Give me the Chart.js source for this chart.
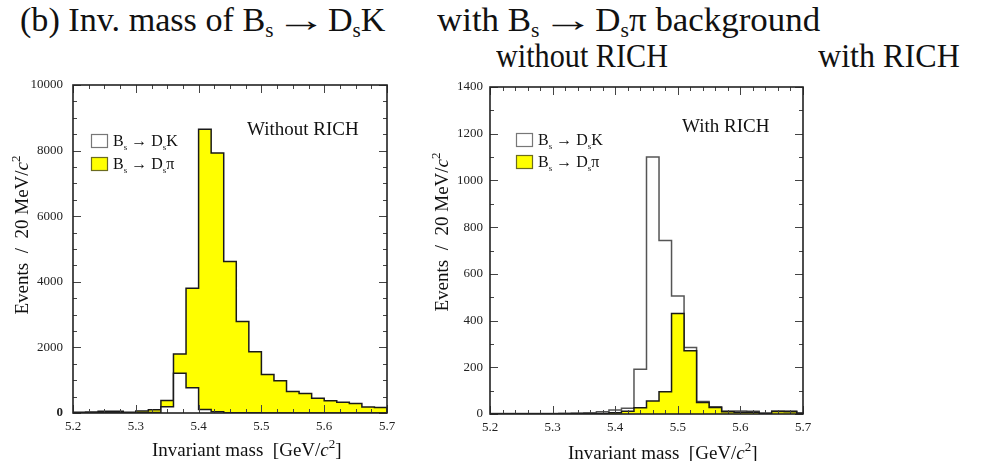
<!DOCTYPE html>
<html>
<head>
<meta charset="utf-8">
<script src="https://cdn.jsdelivr.net/npm/chart.js@4/dist/chart.umd.min.js"></script>
<style>
    body { margin: 0; width: 998px; height: 461px; background: #fff; position: relative; overflow: hidden; }
    .head { position: absolute; font: 33px 'Liberation Serif', serif; line-height: 1; white-space: nowrap; color: #111; transform-origin: 0 0; }
    .head sub { font-size: 62%; vertical-align: -0.28em; line-height: 0; }
    .head .arr { display: inline-block; margin: 0 0.3em; transform: scaleX(1.5); }
    .panel { position: absolute; top: 75px; height: 386px; }
</style>
</head>
<body>
<div class="head" data-w="365" style="left:20px;top:4px">(b) Inv. mass of B<sub>s</sub><span class="arr">&rarr;</span>D<sub>s</sub>K</div>
<div class="head" data-w="383" style="left:437px;top:4px">with B<sub>s</sub><span class="arr">&rarr;</span>D<sub>s</sub>&pi; background</div>
<div class="head" data-w="172" style="left:496px;top:40px">without RICH</div>
<div class="head" data-w="142" style="left:818px;top:40px">with RICH</div>

<div class="panel" style="left:0;width:400px"><canvas id="leftChart" width="400" height="386"></canvas></div>
<div class="panel" style="left:400px;width:420px"><canvas id="rightChart" width="420" height="386"></canvas></div>

<script>
// bin edges (GeV/c^2), 20 MeV bins
const leftEdges = [5.20, 5.22, 5.24, 5.26, 5.28, 5.30, 5.32, 5.34, 5.36, 5.38, 5.40, 5.42, 5.44,
                   5.46, 5.48, 5.50, 5.52, 5.54, 5.56, 5.58, 5.60, 5.62, 5.64, 5.66, 5.68, 5.70];
const rightEdges = [5.19, 5.21, 5.23, 5.25, 5.27, 5.29, 5.31, 5.33, 5.35, 5.37, 5.39, 5.41, 5.43, 5.45,
                    5.47, 5.49, 5.51, 5.53, 5.55, 5.57, 5.59, 5.61, 5.63, 5.65, 5.67, 5.69, 5.71];

// without RICH: events per bin
const leftDsPi = [20, 30, 50, 50, 20, 60, 100, 380, 1800, 3800, 8650, 7930, 4620,
                  2790, 1870, 1170, 985, 655, 595, 450, 370, 330, 290, 185, 165];
const leftDsK = [5, 5, 5, 5, 5, 10, 15, 190, 1210, 770, 110, 40, 10,
                 5, 5, 3, 2, 2, 2, 2, 1, 1, 1, 1, 1];

// with RICH: events per bin
const rightDsK = [2, 2, 2, 2, 2, 2, 3, 4, 5, 10, 17, 25, 192, 1100,
                  743, 505, 285, 54, 31, 13, 13, 12, 4, 13, 13, 4];
const rightDsPi = [0, 0, 0, 0, 0, 0, 0, 1, 1, 2, 5, 12, 27, 56,
                   95, 430, 271, 49, 28, 10, 8, 8, 2, 11, 10, 3];

const xTicks = [5.2, 5.3, 5.4, 5.5, 5.6, 5.7];
const leftYTicks = [0, 2000, 4000, 6000, 8000, 10000];
const rightYTicks = [0, 200, 400, 600, 800, 1000, 1200, 1400];

const SERIF = "'Liberation Serif', 'Times New Roman', serif";
const YELLOW = '#ffff00';

// stretch the heading lines to the widths of the original typesetting
document.querySelectorAll('.head').forEach(el => {
    const target = +el.dataset.w;
    el.style.transform = 'scaleX(' + (target / el.offsetWidth).toFixed(3) + ')';
});

// step outline that closes down to zero at both ends
function histPoints(edges, values) {
    const pts = [{ x: edges[0], y: 0 }];
    values.forEach((v, i) => pts.push({ x: edges[i], y: v }));
    pts.push({ x: edges[edges.length - 1], y: values[values.length - 1] });
    pts.push({ x: edges[edges.length - 1], y: 0 });
    return pts;
}

function histDataset(label, edges, values, fill, line) {
    return {
        label: label,
        data: histPoints(edges, values),
        stepped: 'before',   // hold each value until the next edge
        fill: 'origin',
        backgroundColor: fill,
        borderColor: line,
        borderWidth: 1.5,
        pointRadius: 0,
        tension: 0
    };
}

// draw text pieces in a row; piece = {t, size, italic, dy}
function richWidth(ctx, parts) {
    let w = 0;
    parts.forEach(p => {
        ctx.font = (p.italic ? 'italic ' : '') + p.size + 'px ' + SERIF;
        w += ctx.measureText(p.t).width;
    });
    return w;
}
function drawRich(ctx, parts, x, y) {
    ctx.textBaseline = 'alphabetic';
    ctx.textAlign = 'left';
    parts.forEach(p => {
        ctx.font = (p.italic ? 'italic ' : '') + p.size + 'px ' + SERIF;
        ctx.fillText(p.t, x, y + (p.dy || 0));
        x += ctx.measureText(p.t).width;
    });
}

const xTitle = [
    { t: 'Invariant mass  ', size: 19 },
    { t: '[GeV/', size: 19 },
    { t: 'c', size: 19, italic: true },
    { t: '2', size: 13, dy: -8 },
    { t: ']', size: 19 }
];
const yTitle = [
    { t: 'Events  /  20 MeV/', size: 19 },
    { t: 'c', size: 19, italic: true },
    { t: '2', size: 13, dy: -8 }
];
function legendText(last) {
    return [
        { t: 'B', size: 16 }, { t: 's', size: 9, dy: 4 }, { t: ' \u2192 D', size: 16 },
        { t: 's', size: 9, dy: 4 }, { t: last, size: 16 }
    ];
}

// ROOT-like frame with inward ticks on all four sides
const frameTicks = {
    id: 'frameTicks',
    afterDatasetsDraw(chart, args, opts) {
        const { ctx, chartArea: a, scales: { x, y } } = chart;
        ctx.save();
        ctx.strokeStyle = '#444';
        ctx.lineWidth = 1;
        const seg = (x1, y1, x2, y2) => { ctx.beginPath(); ctx.moveTo(x1, y1); ctx.lineTo(x2, y2); ctx.stroke(); };
        const isMajor = (v, step) => Math.abs(v / step - Math.round(v / step)) < 1e-6;

        let n = Math.round((x.max - x.min) / opts.xMinor);
        for (let i = 0; i <= n; i++) {
            const v = x.min + i * opts.xMinor;
            const px = Math.round(x.getPixelForValue(v)) + 0.5;
            const len = isMajor(v, opts.xMajor) ? 8 : 4;
            seg(px, a.bottom, px, a.bottom - len);
            seg(px, a.top, px, a.top + len);
        }
        n = Math.round((y.max - y.min) / opts.yMinor);
        for (let i = 0; i <= n; i++) {
            const v = y.min + i * opts.yMinor;
            const py = Math.round(y.getPixelForValue(v)) + 0.5;
            const len = isMajor(v, opts.yMajor) ? 8 : 4;
            seg(a.left, py, a.left + len, py);
            seg(a.right, py, a.right - len, py);
        }
        ctx.strokeStyle = '#222';
        ctx.lineWidth = 1.6;
        ctx.strokeRect(a.left, a.top, a.right - a.left, a.bottom - a.top);
        ctx.restore();
    }
};

// legend, inner label and axis titles
const decor = {
    id: 'decor',
    afterDraw(chart, args, o) {
        const { ctx, chartArea: a } = chart;
        ctx.save();
        ctx.fillStyle = '#111';

        ctx.font = '19px ' + SERIF;
        ctx.textBaseline = 'middle';
        ctx.fillText(o.label, a.left + o.labelX, a.top + o.labelY);

        // legend boxes
        const bx = a.left + o.legX;
        ctx.lineWidth = 1.2;
        ctx.fillStyle = '#fff';
        ctx.strokeStyle = '#777';
        ctx.fillRect(bx, a.top + o.legY1, 16, 13);
        ctx.strokeRect(bx + 0.5, a.top + o.legY1 + 0.5, 16, 13);
        ctx.fillStyle = YELLOW;
        ctx.strokeStyle = '#6b6b20';
        ctx.fillRect(bx, a.top + o.legY2, 16, 13);
        ctx.strokeRect(bx + 0.5, a.top + o.legY2 + 0.5, 16, 13);
        ctx.fillStyle = '#111';
        drawRich(ctx, legendText('K'), bx + 22, a.top + o.legY1 + 12);
        drawRich(ctx, legendText('\u03c0'), bx + 22, a.top + o.legY2 + 12);

        // x axis title
        drawRich(ctx, xTitle, o.xTitleX, o.xTitleY);

        // y axis title, rotated
        const w = richWidth(ctx, yTitle);
        ctx.translate(o.yTitleX, o.yTitleY);
        ctx.rotate(-Math.PI / 2);
        drawRich(ctx, yTitle, -w / 2, 0);
        ctx.restore();
    }
};

function makeChart(id, cfg) {
    return new Chart(document.getElementById(id), {
        type: 'line',
        data: { datasets: cfg.datasets },
        options: {
            responsive: false,
            animation: false,
            events: [],
            layout: { padding: cfg.padding },
            plugins: {
                legend: { display: false },
                tooltip: { enabled: false },
                frameTicks: cfg.ticks,
                decor: cfg.decor
            },
            scales: {
                x: {
                    type: 'linear',
                    min: 5.2,
                    max: 5.7,
                    afterBuildTicks: s => { s.ticks = xTicks.map(v => ({ value: v })); },
                    afterFit: s => { s.height = cfg.xAxisHeight; s.paddingLeft = 0; s.paddingRight = 0; },
                    grid: { display: false, drawTicks: false },
                    border: { display: false },
                    ticks: {
                        padding: 6,
                        color: '#222',
                        font: { family: SERIF, size: 13 },
                        maxRotation: 0,
                        callback: v => v.toFixed(1)
                    }
                },
                y: {
                    min: 0,
                    max: cfg.yMax,
                    afterBuildTicks: s => { s.ticks = cfg.yTicks.map(v => ({ value: v })); },
                    afterFit: s => { s.width = cfg.yAxisWidth; s.paddingTop = 0; s.paddingBottom = 0; },
                    grid: { display: false, drawTicks: false },
                    border: { display: false },
                    ticks: {
                        padding: cfg.yPad,
                        color: '#222',
                        callback: v => String(v),
                        font: ctx => ({ family: SERIF, size: 13, weight: (cfg.boldZero && ctx.tick && ctx.tick.value === 0) ? 'bold' : 'normal' })
                    }
                }
            }
        },
        plugins: [frameTicks, decor]
    });
}

// without RICH: the K histogram sits on top of the pi one
makeChart('leftChart', {
    datasets: [
        histDataset('Bs -> DsK', leftEdges, leftDsK, '#ffffff', '#1a1a1a'),
        histDataset('Bs -> Dspi', leftEdges, leftDsPi, YELLOW, '#1a1a1a')
    ],
    padding: { left: 0, top: 10, right: 13, bottom: 0 },
    xAxisHeight: 48,
    yAxisWidth: 73,
    yMax: 10000,
    yTicks: leftYTicks,
    yPad: 10,
    boldZero: true,
    ticks: { xMajor: 0.1, xMinor: 0.025, yMajor: 2000, yMinor: 500 },
    decor: {
        label: 'Without RICH', labelX: 174, labelY: 45,
        legX: 18, legY1: 49, legY2: 72,
        xTitleX: 152, xTitleY: 381,
        yTitleX: 28, yTitleY: 160
    }
});

// with RICH: the pi histogram sits on top of the K one
makeChart('rightChart', {
    datasets: [
        histDataset('Bs -> Dspi', rightEdges, rightDsPi, YELLOW, '#1a1a1a'),
        histDataset('Bs -> DsK', rightEdges, rightDsK, '#ffffff', '#555555')
    ],
    padding: { left: 0, top: 12, right: 17, bottom: 0 },
    xAxisHeight: 47,
    yAxisWidth: 90,
    yMax: 1400,
    yTicks: rightYTicks,
    yPad: 7,
    boldZero: false,
    ticks: { xMajor: 0.1, xMinor: 0.02, yMajor: 200, yMinor: 100 },
    decor: {
        label: 'With RICH', labelX: 192, labelY: 40,
        legX: 26, legY1: 46, legY2: 68,
        xTitleX: 168, xTitleY: 384,
        yTitleX: 48, yTitleY: 157
    }
});
</script>
</body>
</html>
